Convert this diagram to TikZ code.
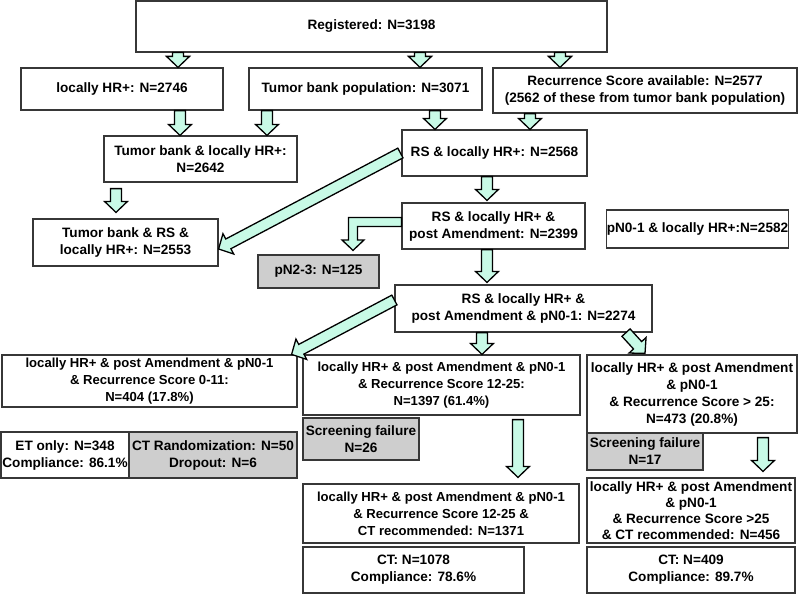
\documentclass[tikz,border=0pt]{standalone}
\usepackage{fontspec}
\setmainfont{Liberation Sans}
\usetikzlibrary{calc}

\definecolor{arrowfill}{RGB}{200,250,230}
\definecolor{boxgrey}{RGB}{206,206,206}
\definecolor{boxline}{RGB}{55,55,55}

\tikzset{
  box/.style={rectangle, draw=boxline, line width=1.2pt, fill=white, inner sep=1pt,
    align=center, font=\bfseries\fontsize{13.6}{17}\selectfont},
  greybox/.style={box, fill=boxgrey},
  widebox/.style={box, font=\bfseries\fontsize{13.1}{17}\selectfont},
  fatarrow/.style={draw=black, line width=1.3pt, fill=arrowfill, line join=miter}
}

% block arrow from #1 to the tip #2
\newcommand\fatarrow[2]{%
  \path #1 coordinate (fa-s) #2 coordinate (fa-e);
  \path ($(fa-e)!11pt!(fa-s)$) coordinate (fa-n);
  \draw[fatarrow] ($(fa-s)!5.5pt!90:(fa-e)$) -- ($(fa-n)!5.5pt!-90:(fa-s)$)
    -- ($(fa-n)!11.5pt!-90:(fa-s)$) -- (fa-e) -- ($(fa-n)!11.5pt!90:(fa-s)$)
    -- ($(fa-n)!5.5pt!90:(fa-s)$) -- ($(fa-s)!5.5pt!-90:(fa-e)$) -- cycle;
}

\begin{document}
\begin{tikzpicture}[x=1pt,y=-1pt]
\useasboundingbox (0,0) rectangle (798,594);

% top rows
\node [box, minimum width=471, minimum height=51] (reg) at (371.5,26.5) {Registered: N=3198};
\node [box, minimum width=202, minimum height=42] (hr) at (122,89) {locally HR+: N=2746};
\node [box, minimum width=233, minimum height=42] (tbp) at (365.5,89) {Tumor bank population: N=3071};
\node [box, minimum width=304, minimum height=45] (rsa) at (645,90.5) {Recurrence Score available: N=2577\\(2562 of these from tumor bank population)};
\node [box, minimum width=193, minimum height=46] (tbhr) at (200.5,159) {Tumor bank \& locally HR+:\\N=2642};
\node [box, minimum width=185, minimum height=46] (rshr) at (494.5,153) {RS \& locally HR+: N=2568};
\node [box, minimum width=185, minimum height=47] (tbrs) at (125.5,242.5) {Tumor bank \& RS \&\\locally HR+: N=2553};
\node [box, minimum width=183, minimum height=46] (rsam) at (493.5,226) {RS \& locally HR+ \&\\post Amendment: N=2399};
\node [box, inner xsep=0pt, minimum width=181, minimum height=38] (pnlo) at (697.5,229) {pN0-1 \& locally HR+:N=2582};
\node [greybox, minimum width=121, minimum height=33] (pnhi) at (318.5,271.5) {pN2-3: N=125};
\node [box, minimum width=257, minimum height=47] (rspn) at (523.5,308.5) {RS \& locally HR+ \&\\post Amendment \& pN0-1: N=2274};

% score groups
\node [widebox, minimum width=295, minimum height=52] (low) at (149.5,381) {locally HR+ \& post Amendment \& pN0-1\\\& Recurrence Score 0-11:\\N=404 (17.8\%)};
\node [box, minimum width=128, minimum height=46] (et) at (65,455) {ET only: N=348\\Compliance: 86.1\%};
\node [greybox, minimum width=168, minimum height=46] (ctr) at (213,455) {CT Randomization: N=50\\Dropout: N=6};
\node [widebox, minimum width=277, minimum height=60] (mid) at (441.5,385) {locally HR+ \& post Amendment \& pN0-1\\\& Recurrence Score 12-25:\\N=1397 (61.4\%)};
\node [greybox, minimum width=116, minimum height=42] (sfmid) at (361,439) {Screening failure\\N=26};
\node [widebox, minimum width=276, minimum height=59] (midct) at (441,513.5) {locally HR+ \& post Amendment \& pN0-1\\\& Recurrence Score 12-25 \&\\CT recommended: N=1371};
\node [box, minimum width=221, minimum height=46] (ctmid) at (413.5,570) {CT: N=1078\\Compliance: 78.6\%};
\node [box, minimum width=210, minimum height=78] (high) at (692,394) {locally HR+ \& post Amendment\\\& pN0-1\\\& Recurrence Score > 25:\\N=473 (20.8\%)};
\node [greybox, minimum width=116, minimum height=37] (sfhigh) at (645,451.5) {Screening failure\\N=17};
\node [box, inner ysep=0pt, font=\bfseries\fontsize{13.6}{16.2}\selectfont, minimum width=208, minimum height=65] (highct) at (691,510.5) {locally HR+ \& post Amendment\\\& pN0-1\\\& Recurrence Score >25\\\& CT recommended: N=456};
\node [box, minimum width=208, minimum height=46] (cthigh) at (691,570) {CT: N=409\\Compliance: 89.7\%};

% block arrows
\fatarrow{(reg.south -| 178,0)}{(hr.north -| 178,0)}
\fatarrow{(reg.south -| 420,0)}{(tbp.north -| 420,0)}
\fatarrow{(reg.south -| 560,0)}{(rsa.north -| 560,0)}
\fatarrow{(hr.south -| 180,0)}{(tbhr.north -| 180,0)}
\fatarrow{(tbp.south -| 267,0)}{(tbhr.north -| 267,0)}
\fatarrow{(tbp.south -| 435,0)}{(rshr.north -| 435,0)}
\fatarrow{(rsa.south -| 530,0)}{(rshr.north -| 530,0)}
\fatarrow{([yshift=-6pt]tbhr.south -| 116,0)}{([yshift=6pt]tbrs.north -| 116,0)}
\fatarrow{([xshift=-1pt]rshr.west)}{(tbrs.east |- 0,249)}
\fatarrow{(rshr.south -| 487,0)}{([yshift=2pt]rsam.north -| 487,0)}
\fatarrow{(rsam.south -| 487,0)}{([yshift=2pt]rspn.north -| 487,0)}
\fatarrow{(rspn.west |- 0,300)}{([xshift=-6pt]low.north east)}
\fatarrow{(rspn.south -| 482,0)}{(mid.north -| 482,0)}
\fatarrow{(rspn.south -| 626,0)}{([yshift=1pt]high.north -| 645,0)}
\fatarrow{([yshift=-4pt]mid.south -| 518,0)}{([yshift=6pt]midct.north -| 518,0)}
\fatarrow{([yshift=-4pt]high.south -| 763,0)}{([yshift=6pt]highct.north -| 763,0)}

% elbow arrow to pN2-3
\draw[fatarrow] ([yshift=8.5pt]rsam.west) -- (348.5,217.5) -- (348.5,240) -- (342,240)
  -- ([yshift=4pt]pnhi.north -| 353,0) -- (364,240) -- (357.5,240) -- (357.5,226.5)
  -- ([yshift=-0.5pt]rsam.west) -- cycle;
\end{tikzpicture}
\end{document}
